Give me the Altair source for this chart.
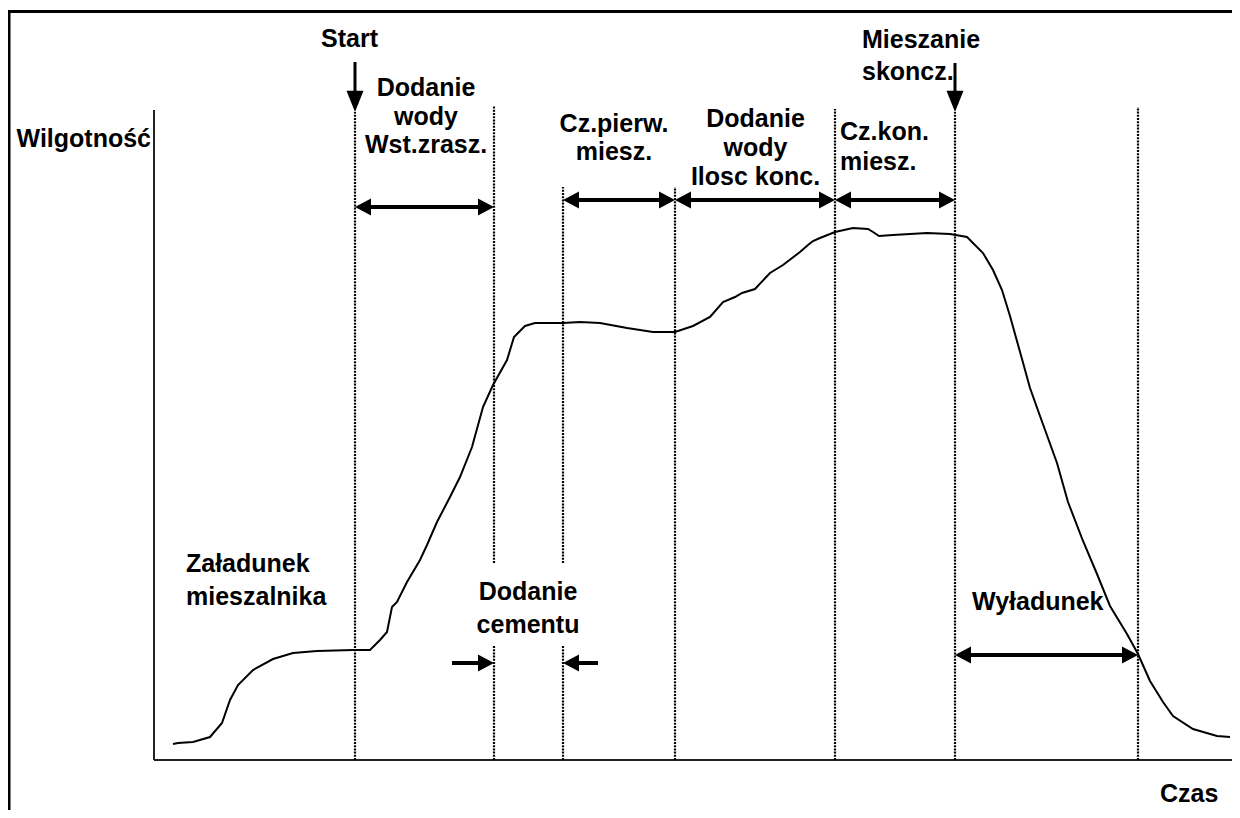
import altair as alt
import pandas as pd

# ---------------- data ----------------
# Moisture curve: time (s) vs moisture (%)
curve_t = [1.9, 2.4, 3.9, 5.6, 6.8, 7.6, 8.4, 9.9, 11.9, 13.9, 16.3, 19.9, 21.6, 22.6, 23.3,
           23.8, 24.3, 25.3, 26.6, 27.3, 28.3, 29.6, 30.6, 31.8, 32.9, 33.9, 35.3, 36.0, 36.4,
           37.1, 38.1, 40.9, 42.6, 44.6, 47.3, 49.9, 52.1, 53.9, 55.6, 56.9, 58.1, 58.8, 60.1,
           61.6, 62.9, 64.6, 65.4, 65.9, 66.6, 68.1, 69.9, 71.4, 71.9, 72.5, 73.9, 77.3, 79.6,
           81.3, 82.9, 83.9, 84.8, 85.6, 86.8, 87.6, 88.6, 90.3, 91.4, 92.9, 94.3, 95.6, 97.3,
           98.4, 99.6, 100.9, 101.9, 103.9, 106.3, 107.6]
curve_m = [1.6, 1.7, 1.8, 2.3, 3.7, 6.0, 7.5, 9.0, 10.1, 10.7, 10.9, 11.0, 11.0, 12.0, 12.8,
           15.3, 15.8, 17.8, 20.0, 21.5, 23.8, 26.3, 28.3, 31.3, 35.3, 37.5, 40.0, 42.3, 42.7,
           43.4, 43.7, 43.7, 43.8, 43.7, 43.2, 42.8, 42.8, 43.4, 44.3, 45.8, 46.3, 46.7, 47.1,
           48.7, 49.5, 50.8, 51.5, 51.9, 52.2, 52.8, 53.2, 53.1, 52.8, 52.4, 52.5, 52.7, 52.6,
           52.3, 50.7, 49.0, 47.0, 44.4, 40.1, 37.2, 34.4, 29.7, 25.8, 21.9, 18.6, 15.4, 12.6,
           10.6, 7.9, 5.8, 4.4, 3.1, 2.4, 2.3]

# Phase boundaries (dotted verticals): time, lower end, upper end
bound_t = [20.1, 34.0, 34.0, 40.9, 40.9, 52.1, 68.1, 80.1, 98.4]
bound_lo = [0.0, 0.0, 19.7, 0.0, 19.7, 0.0, 0.0, 0.0, 0.0]
bound_hi = [64.8, 11.5, 65.4, 11.5, 57.3, 57.3, 65.1, 64.8, 65.3]

# Horizontal arrows: from, to, level, heads at start / end
arr_t1 = [20.1, 40.9, 52.1, 68.1, 80.1, 29.8, 40.9]
arr_t2 = [34.0, 52.1, 68.1, 80.1, 98.4, 34.0, 44.4]
arr_m = [55.3, 56.0, 56.0, 56.0, 10.5, 9.7, 9.7]
arr_head_start = [True, True, True, True, True, False, True]
arr_head_end = [True, True, True, True, True, True, False]

# Vertical (downward) arrows: time, top, tip
varr_t = [20.1, 80.1]
varr_top = [69.8, 69.7]
varr_tip = [64.8, 64.8]

# Axes
axis_top = 65.0
x_min, x_max = -14.6, 107.8
y_min, y_max = -5.0, 75.2

# Labels: text, anchor time, baseline moisture, alignment
lab_text = ["Start", "Dodanie", "wody", "Wst.zrasz.", "Cz.pierw.", "miesz.", "Dodanie", "wody",
            "Ilosc konc.", "Dodanie", "cementu", "Cz.kon.", "miesz.", "Mieszanie", "skoncz.",
            "Załadunek", "mieszalnika", "Wyładunek", "Czas", "Wilgotność"]
lab_t = [19.55, 27.2, 27.2, 27.2, 46.0, 46.0, 60.15, 60.15, 60.15, 37.4, 37.4, 68.6, 68.6,
         70.8, 70.8, 3.2, 3.2, 81.8, 100.6, -0.3]
lab_m = [71.3, 66.4, 63.5, 60.7, 62.8, 60.0, 63.3, 60.4, 57.5, 16.0, 12.7, 62.0, 59.0,
         71.2, 68.0, 18.8, 15.5, 15.0, -4.2, 61.3]
lab_align = ["center"] * 11 + ["left"] * 8 + ["right"]

# ---------------- tables ----------------
curve = pd.DataFrame({"t": curve_t, "m": curve_m})
bounds = pd.DataFrame({"t": bound_t, "m": bound_lo, "m2": bound_hi})

RIGHT = "M0,0L-2,-1.05L-2,1.05Z"
LEFT = "M0,0L2,-1.05L2,1.05Z"
DOWN = "M0,0L-1,-2.5L1,-2.5Z"
inset = 0.8

shaft_rows, head_rows = [], []
for t1, t2, m, hs, he in zip(arr_t1, arr_t2, arr_m, arr_head_start, arr_head_end):
    lo, hi = min(t1, t2), max(t1, t2)
    s_lo = lo + (inset if ((hs and t1 == lo) or (he and t2 == lo)) else 0)
    s_hi = hi - (inset if ((hs and t1 == hi) or (he and t2 == hi)) else 0)
    shaft_rows.append({"t": s_lo, "t2": s_hi, "m": m})
    if hs:
        head_rows.append({"t": t1, "m": m, "shape": LEFT if t1 < t2 else RIGHT, "size": 256})
    if he:
        head_rows.append({"t": t2, "m": m, "shape": RIGHT if t2 > t1 else LEFT, "size": 256})
vshaft_rows = []
for t, top, tip in zip(varr_t, varr_top, varr_tip):
    vshaft_rows.append({"t": t, "m": top, "m2": tip + 1.0})
    head_rows.append({"t": t, "m": tip, "shape": DOWN, "size": 289})

shafts = pd.DataFrame(shaft_rows)
vshafts = pd.DataFrame(vshaft_rows)
heads = pd.DataFrame(head_rows)
labels = pd.DataFrame({"text": lab_text, "t": lab_t, "m": lab_m, "align": lab_align})

xs = alt.Scale(domain=[x_min, x_max], nice=False, zero=False)
ys = alt.Scale(domain=[y_min, y_max], nice=False, zero=False)
X = alt.X("t:Q", scale=xs, axis=None)
Y = alt.Y("m:Q", scale=ys, axis=None)

frame_top = alt.Chart(pd.DataFrame({"t": [x_min], "t2": [x_max], "m": [74.85]})).mark_rule(
    color="black", strokeWidth=3).encode(x=X, x2="t2:Q", y=Y)
frame_left = alt.Chart(pd.DataFrame({"t": [-14.5], "m": [y_min], "m2": [74.95]})).mark_rule(
    color="black", strokeWidth=3).encode(x=X, y=Y, y2="m2:Q")

yaxis = alt.Chart(pd.DataFrame({"t": [0.0], "m": [0.0], "m2": [axis_top]})).mark_rule(
    color="#222", strokeWidth=2).encode(x=X, y=Y, y2="m2:Q")
xaxis = alt.Chart(pd.DataFrame({"t": [0.0], "t2": [x_max], "m": [0.0]})).mark_rule(
    color="#222", strokeWidth=2).encode(x=X, x2="t2:Q", y=Y)

dotted = alt.Chart(bounds).mark_rule(color="black", strokeWidth=2.2, strokeDash=[2, 1.2]).encode(
    x=X, y=Y, y2="m2:Q")

line = alt.Chart(curve).mark_line(color="black", strokeWidth=2).encode(x=X, y=Y)

shaft_layer = alt.Chart(shafts).mark_rule(color="black", strokeWidth=4).encode(x=X, x2="t2:Q", y=Y)
vshaft_layer = alt.Chart(vshafts).mark_rule(color="black", strokeWidth=3).encode(x=X, y=Y, y2="m2:Q")
head_layer = alt.Chart(heads).mark_point(filled=True, color="black", opacity=1, strokeWidth=0).encode(
    x=X, y=Y, shape=alt.Shape("shape:N", scale=None), size=alt.Size("size:Q", scale=None))

FONT = "Liberation Sans, Arial, Helvetica, sans-serif"
text_layers = []
for al in ["center", "left", "right"]:
    text_layers.append(
        alt.Chart(labels).transform_filter(alt.datum.align == al).mark_text(
            align=al, baseline="alphabetic", font=FONT, fontSize=25, fontWeight="bold",
            color="black").encode(x=X, y=Y, text="text:N"))

chart = alt.layer(
    frame_top, frame_left, yaxis, xaxis, dotted, line, shaft_layer, vshaft_layer, head_layer,
    *text_layers
).properties(
    width=1224, height=802, padding=0, autosize=alt.AutoSizeParams(type="none"),
    background="white"
).configure_view(stroke=None)

chart.save("out.html", embed_options={"renderer": "svg", "actions": False})
